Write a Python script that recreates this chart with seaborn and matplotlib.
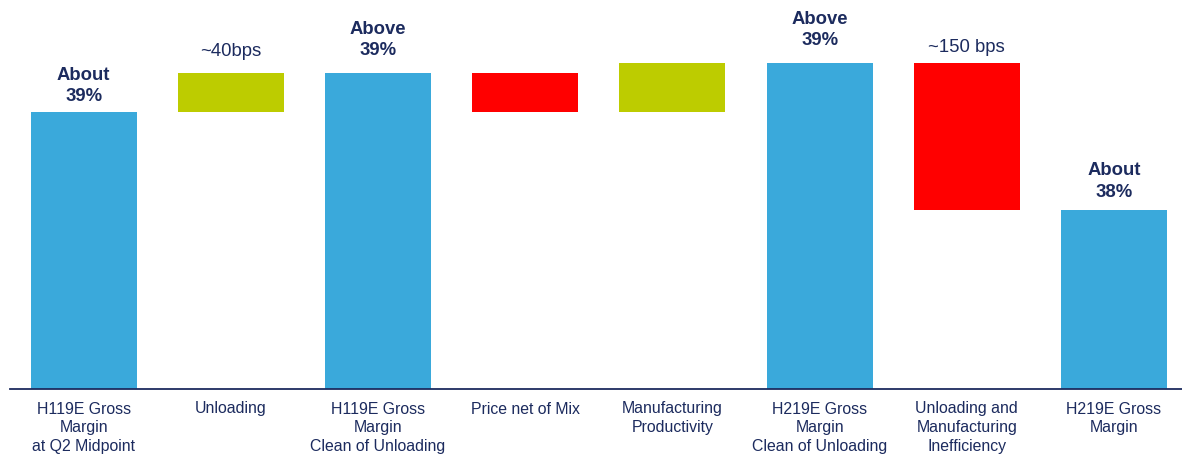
import numpy as np
import pandas as pd
import matplotlib
matplotlib.use("Agg")
import matplotlib.pyplot as plt
import seaborn as sns

# Gross margin bridge, values in percent
categories = [
    "H119E Gross\nMargin\nat Q2 Midpoint",
    "Unloading",
    "H119E Gross\nMargin\nClean of Unloading",
    "Price net of Mix",
    "Manufacturing\nProductivity",
    "H219E Gross\nMargin\nClean of Unloading",
    "Unloading and\nManufacturing\nInefficiency",
    "H219E Gross\nMargin",
]
kinds = ["total", "up", "total", "down", "up", "total", "down", "total"]
values = [38.9, 0.4, 39.3, -0.4, 0.5, 39.4, -1.5, 37.9]
labels = ["About\n39%", "~40bps", "Above\n39%", "", "", "Above\n39%", "~150 bps", "About\n38%"]
label_bold = [True, False, True, False, False, True, False, True]
label_pad_pt = [5, 9.5, 10, 0, 0, 10, 5.5, 6.5]

BLUE = "#3AA9DB"
GREEN = "#BDCC00"
RED = "#FF0000"
NAVY = "#1C2B5E"
kind_colors = {"total": BLUE, "up": GREEN, "down": RED}

# Floating segments: each step starts at the previous level
lows, highs = [], []
level = 0.0
for kind, v in zip(kinds, values):
    if kind == "total":
        lows.append(None)
        highs.append(v)
        level = v
    else:
        start, end = level, level + v
        lows.append(min(start, end))
        highs.append(max(start, end))
        level = end

df = pd.DataFrame({"category": categories, "top": highs})

sns.set_theme(style="white")
plt.rcParams["font.family"] = ["Liberation Sans", "DejaVu Sans"]

W, H = 1182, 454
fig = plt.figure(figsize=(W / 100, H / 100), dpi=100)
ax = fig.add_axes([10 / W, 65 / H, 1177.6 / W, 389 / H])

palette = {c: kind_colors[k] for c, k in zip(categories, kinds)}
sns.barplot(data=df, x="category", y="top", hue="category", order=categories,
            hue_order=categories, palette=palette, width=0.72, saturation=1,
            legend=False, linewidth=0, ax=ax)

# Turn step bars into floating segments
for patch, low, high in zip(ax.patches, lows, highs):
    if low is not None:
        patch.set_y(low)
        patch.set_height(high - low)

ax.set_xlim(-0.5, len(categories) - 0.5)
ax.set_ylim(36.06, 36.06 + 389 / 97.5)

for i, (txt, bold, pad) in enumerate(zip(labels, label_bold, label_pad_pt)):
    if not txt:
        continue
    ax.annotate(txt, xy=(i, highs[i]), xytext=(0, pad), textcoords="offset points",
                ha="center", va="bottom", fontsize=13.3,
                fontweight="bold" if bold else "normal", color=NAVY,
                linespacing=1.35)

ax.set_xlabel("")
ax.set_ylabel("")
ax.set_yticks([])
ax.set_xticks(range(len(categories)))
ax.set_xticklabels(categories, fontsize=11.4, color=NAVY, linespacing=1.3)
ax.tick_params(axis="x", which="major", length=0, pad=9)
ax.set_xticks(np.arange(-0.5, len(categories), 1), minor=True)
ax.tick_params(axis="x", which="minor", length=4, width=1, color=NAVY, direction="out")

for side in ["top", "right", "left"]:
    ax.spines[side].set_visible(False)
ax.spines["bottom"].set_color(NAVY)
ax.spines["bottom"].set_linewidth(1.3)

fig.savefig("out.png", dpi=100)
